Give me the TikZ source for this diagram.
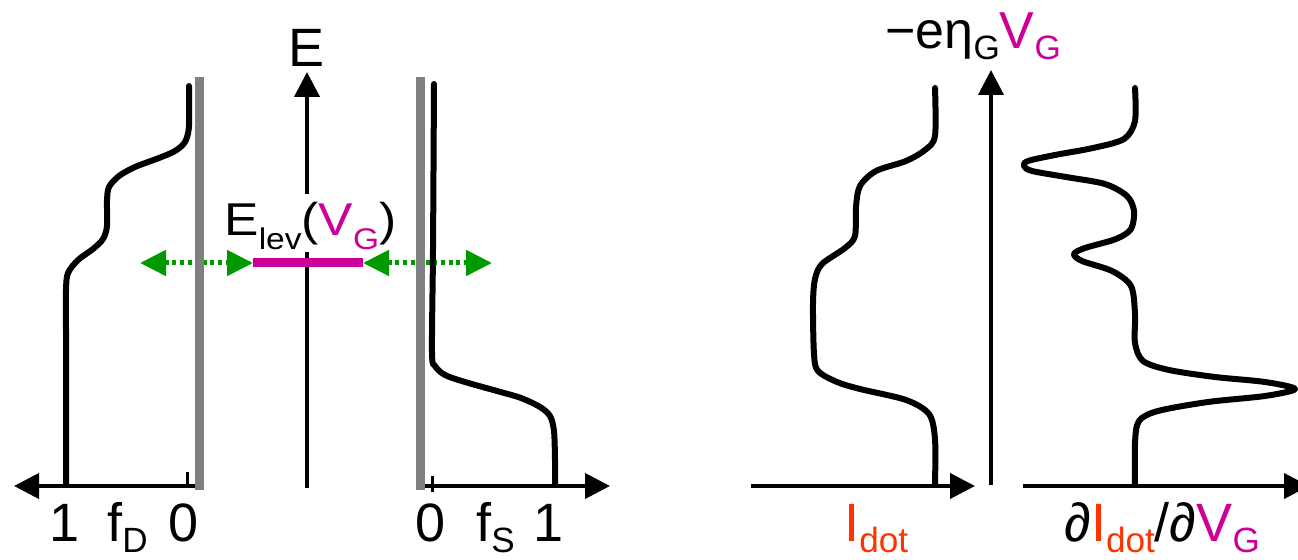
\documentclass[tikz,border=0pt]{standalone}
\usepackage{fontspec}
\setmainfont{Liberation Sans}
\usepackage{xcolor}
\usepackage{tikz}
\usetikzlibrary{arrows.meta,positioning}

\definecolor{gatemag}{RGB}{204,0,153}
\definecolor{dotred}{RGB}{255,51,0}
\definecolor{tunnelgreen}{RGB}{0,153,0}

\newcommand{\low}[2][0.2em]{\raisebox{-#1}{\scalebox{0.65}{#2}}}

\tikzset{
  axis/.style={line width=2pt, -{Triangle[length=12.5pt,width=12.5pt]}},
  wall/.style={gray, line width=4.5pt},
  occ/.style={line width=3pt, line cap=round, line join=round},
  tunnel/.style={tunnelgreen, line width=2.5pt, dash pattern=on 2pt off 1.8pt,
    {Triangle[length=13pt,width=12.5pt]}-{Triangle[length=13pt,width=12.5pt]}},
  big/.style={font=\fontsize{27}{27}\selectfont, inner sep=0pt, anchor=base},
}

\begin{document}
\begin{tikzpicture}[x=0.5pt,y=-0.5pt]
    \useasboundingbox (0,0) rectangle (1298,560);
    % axes
    \coordinate (oD) at (204,486);  \coordinate (tipD) at (14,486);
    \coordinate (oS) at (416,486);  \coordinate (tipS) at (610,486);
    \coordinate (eBot) at (307,488); \coordinate (eTop) at (307,72);
    \coordinate (oI) at (751,486);  \coordinate (tipI) at (975,486);
    \coordinate (oG) at (991,485);  \coordinate (tipG) at (991,70);
    \coordinate (odI) at (1023,486); \coordinate (tipdI) at (1309,486);
    \draw[axis] (oD) -- (tipD);
    \draw[axis] (oS) -- (tipS);
    \draw[axis] (eBot) -- (eTop);
    \draw[axis] (oI) -- (tipI);
    \draw[axis] (oG) -- (tipG);
    \draw[axis] (odI) -- (tipdI);
    \draw[line width=1.5pt] (187,472) -- (187,486);
    \draw[line width=1.5pt] (432,476) -- (432,492);

    % level and tunnelling
    \node[font=\fontsize{23}{23}\selectfont, fill=white, inner sep=1pt, text height=20pt,
          anchor=base west] (lev) at (222,236)
        {\scalebox{1.12}[1]{E\low[0.3em]{lev}(\textcolor{gatemag}{V\low[0.3em]{G}})}};
    \coordinate (levL) at (253,263); \coordinate (levR) at (363,263);
    \coordinate (tunD) at (140,263); \coordinate (tunS) at (492,263);
    \draw[tunnel] (tunD) -- (levL);
    \draw[tunnel] (levR) -- (tunS);
    \draw[gatemag, line width=4.5pt] (levL) -- (levR);

    % leads
    \foreach \x in {199,420} {
        \draw[wall] (\x,77) -- (\x,490);
    }
    \draw[occ] plot[smooth] coordinates {(189,86) (189,126) (185,142) (175,151) (159,158)
        (135,167) (119,176) (109,187) (107,201) (107,226) (103,239) (93,249) (78,260)
        (68,273) (66,290) (66,330) (66,485)};
    \draw[occ] plot[smooth] coordinates {(434,84) (433,250) (432,352) (435,366) (445,375)
        (465,382) (497,391) (521,398) (540,407) (550,416) (554,431) (555,460) (555,485)};

    % current and derivative (approximate)
    \draw[occ] plot[smooth] coordinates {(935,88) (935,136) (925,150) (906,161) (876,171)
        (860,186) (856,207) (855,236) (845,248) (822,264) (815,279) (813,304) (814,354)
        (818,371) (837,382) (860,389) (906,400) (929,414) (935,439) (935,484)};
    \draw[occ] plot[smooth] coordinates {(1135,88) (1135,121) (1124,139) (1093,148)
        (1055,155) (1028,161) (1024,166) (1032,171) (1066,177) (1105,184) (1127,196)
        (1134,211) (1131,229) (1116,239) (1085,248) (1074,254) (1082,261) (1112,271)
        (1131,286) (1135,314) (1135,343) (1143,361) (1169,370) (1215,377) (1265,382)
        (1295,389) (1265,396) (1208,402) (1158,411) (1139,421) (1135,443) (1135,485)};

    % labels
    \node[big] (E) at (307,67) {E};
    \foreach \x/\t/\n in {65/1/oneD, 184/0/zeroD, 431/0/zeroS, 549/1/oneS} {
        \node[big] (\n) at (\x,542) {\t};
    }
    \node[big, anchor=base west] (fD) at (107,542) {f\low{D}};
    \node[big, anchor=base west] (fS) at (476,542) {f\low{S}};
    \node[big, anchor=base west, text=dotred] (Idot) at (844,542) {I\low{dot}};
    \node[big, anchor=base west] (dIdV) at (1064,542)
        {∂\textcolor{dotred}{I\low{dot}}/∂\textcolor{gatemag}{V\low{G}}};
    \node[font=\fontsize{26}{26}\selectfont, inner sep=0pt, anchor=base west] (gate) at (885,49)
        {−eη\low{G}\textcolor{gatemag}{V\low{G}}};
\end{tikzpicture}
\end{document}
